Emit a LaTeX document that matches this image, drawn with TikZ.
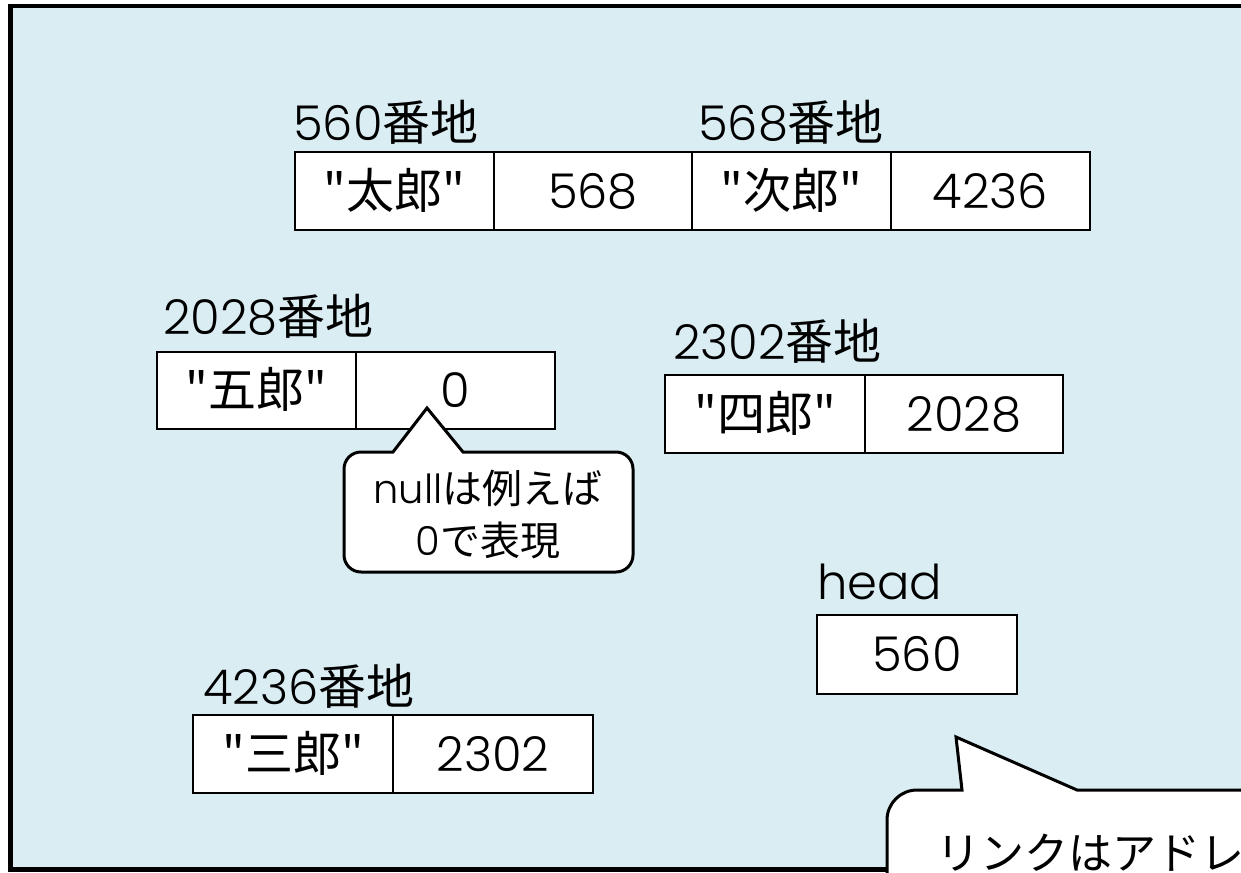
\documentclass[tikz,border=0pt]{standalone}
\usepackage{fontspec}
\setmainfont{Poppins}[UprightFont={* Light}]
\newfontfamily\jp{Noto Sans CJK JP}
\definecolor{bgblue}{RGB}{218,237,243}
\tikzset{
  x=1pt, y=1pt,
  cell/.style={draw, line width=2.2pt, fill=white, inner sep=0pt,
    minimum height=77.5pt, text height=34pt, text depth=0pt,
    font=\fontsize{48}{56}\selectfont},
  lbl/.style={anchor=base west, inner sep=0pt, font=\fontsize{48}{56}\selectfont},
  callout/.style={draw, line width=3pt, fill=white, line join=miter},
  ctext/.style={inner sep=0pt, align=center, font=\fontsize{40}{52}\selectfont}
}
\begin{document}
\begin{tikzpicture}
\useasboundingbox (0,0) rectangle (1241,-872);
\clip (0,0) rectangle (1241,-872);
% frame
\draw[line width=4.5pt, fill=bgblue] (10.5,-6) rectangle (1300,-869.5);

% 560 / 568
\node[lbl] (l560) at (293,-140) {560{\jp 番地}};
\node[lbl] (l568) at (698,-140) {568{\jp 番地}};
\node[cell, minimum width=199pt] (c1) at (394.5,-191) {{\jp "太郎"}};
\node[cell, minimum width=198pt] (c2) at (593,-191) {568};
\node[cell, minimum width=199pt] (c3) at (791.5,-191) {{\jp "次郎"}};
\node[cell, minimum width=199pt] (c4) at (990.5,-191) {4236};

% 2028
\node[lbl] (l2028) at (163,-334) {2028{\jp 番地}};
\node[cell, minimum width=199pt, minimum height=77pt] (d1) at (256.5,-390.5) {{\jp "五郎"}};
\node[cell, minimum width=199pt, minimum height=77pt] (d2) at (455.5,-390.5) {0};

% 2302
\node[lbl] (l2302) at (673,-359) {2302{\jp 番地}};
\node[cell, minimum width=200pt, minimum height=78pt] (e1) at (765,-414) {{\jp "四郎"}};
\node[cell, minimum width=198pt, minimum height=78pt] (e2) at (964,-414) {2028};

% head
\node[lbl] (lhead) at (817,-599) {head};
\node[cell, minimum width=200pt, minimum height=79pt] (h) at (917,-654.5) {560};

% 4236
\node[lbl] (l4236) at (203,-704) {4236{\jp 番地}};
\node[cell, minimum width=200pt, minimum height=78pt] (f1) at (293,-754) {{\jp "三郎"}};
\node[cell, minimum width=200pt, minimum height=78pt] (f2) at (493,-754) {2302};

% callout: null
\draw[callout] (393,-452) -- (427,-408) -- (463,-452) -- (616,-452)
  arc[start angle=90, end angle=0, radius=17] -- (633,-555)
  arc[start angle=0, end angle=-90, radius=17] -- (361,-572)
  arc[start angle=270, end angle=180, radius=17] -- (344,-469)
  arc[start angle=180, end angle=90, radius=17] -- cycle;
\node[ctext] (t1) at (488,-488) {null{\jp は例えば}};
\node[ctext] (t2) at (488,-540) {0{\jp で表現}};

% callout: link
\draw[callout] (962,-790) -- (956,-737) -- (1077,-790) -- (1320,-790)
  -- (1320,-900) -- (887,-900) -- (887,-820)
  arc[start angle=180, end angle=90, radius=30] -- cycle;
\node[anchor=base west, inner sep=0pt, font=\fontsize{44}{52}\selectfont\jp] (t3) at (936,-869) {リンクはアドレ};
\end{tikzpicture}
\end{document}
